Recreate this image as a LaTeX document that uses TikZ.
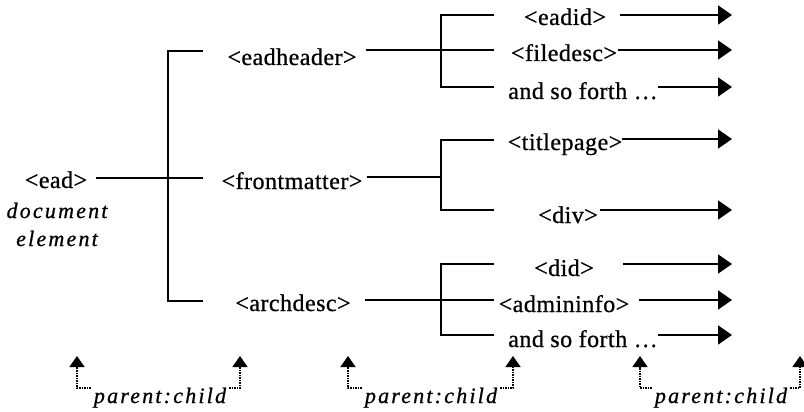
\documentclass[tikz,border=0pt]{standalone}
\usepackage{fontspec}
\setmainfont{Liberation Serif}[LetterSpace=2,FakeBold=0.8,ItalicFeatures={LetterSpace=10}]
\usetikzlibrary{arrows.meta}
\begin{document}
\begin{tikzpicture}[x=1pt,y=-1pt,
  txt/.style={anchor=base,inner sep=0pt,font=\fontsize{24}{28}\selectfont},
  itx/.style={anchor=base,inner sep=0pt,font=\fontsize{22}{26}\selectfont\itshape},
  ln/.style={line width=1.8pt},
  arr/.style={ln,-{Triangle[length=14pt,width=19pt]}},
  uparr/.style={line width=1.5pt,densely dotted,-{Triangle[length=11pt,width=15pt]}}]
\useasboundingbox (0,0) rectangle (804,412);

% root
\node[txt] (ead) at (56,188) {<ead>};
\node[itx] (doc) at (57,218) {document};
\node[itx] (elem) at (57,246) {element};

% level 1
\node[txt] (eadheader) at (292,65) {<eadheader>};
\node[txt] (frontmatter) at (292,189) {<frontmatter>};
\node[txt] (archdesc) at (293,311) {<archdesc>};

\coordinate (b1t) at (168,51);
\coordinate (b1b) at (168,301);
\coordinate (s1t) at (203,51);
\coordinate (s1m) at (203,178);
\coordinate (s1b) at (203,301);
\draw[ln] (s1t) -- (b1t) -- (b1b) -- (s1b);
\draw[ln,shorten <=9pt] (ead.east |- s1m) -- (s1m);

% level 2 brackets
\coordinate (b2at) at (441,15);  \coordinate (s2at) at (494,15);
\coordinate (b2ab) at (441,87);  \coordinate (s2ab) at (494,87);
\coordinate (s2am) at (494,50);
\draw[ln] (s2at) -- (b2at) -- (b2ab) -- (s2ab);
\draw[ln,shorten <=9pt] (eadheader.east |- s2am) -- (s2am);

\coordinate (b2bt) at (441,140); \coordinate (s2bt) at (494,140);
\coordinate (b2bb) at (441,210); \coordinate (s2bb) at (494,210);
\coordinate (b2bm) at (441,177);
\draw[ln] (s2bt) -- (b2bt) -- (b2bb) -- (s2bb);
\draw[ln,shorten <=4pt] (frontmatter.east |- b2bm) -- (b2bm);

\coordinate (b2ct) at (441,264); \coordinate (s2ct) at (494,264);
\coordinate (b2cb) at (441,335); \coordinate (s2cb) at (494,335);
\coordinate (s2cm) at (494,300);
\draw[ln] (s2ct) -- (b2ct) -- (b2cb) -- (s2cb);
\draw[ln,shorten <=14pt] (archdesc.east |- s2cm) -- (s2cm);

% leaves
\node[txt] (eadid) at (565,25) {<eadid>};
\node[txt] (filedesc) at (564,61) {<filedesc>};
\node[txt] (etca) at (583,99) {and so forth …};
\node[txt] (titlepage) at (565,150) {<titlepage>};
\node[txt] (div) at (568,223) {<div>};
\node[txt] (did) at (564,276) {<did>};
\node[txt] (admininfo) at (564,312) {<admininfo>};
\node[txt] (etcb) at (583,347) {and so forth …};

\coordinate (e1) at (732,15);
\coordinate (e2) at (732,50);
\coordinate (e3) at (732,87);
\coordinate (e4) at (732,139);
\coordinate (e5) at (732,210);
\coordinate (e6) at (732,264);
\coordinate (e7) at (732,300);
\coordinate (e8) at (732,335);
\draw[arr,shorten <=14pt] (eadid.east |- e1) -- (e1);
\draw[arr,shorten <=1pt] (filedesc.east |- e2) -- (e2);
\draw[arr] (etca.east |- e3) -- (e3);
\draw[arr] (titlepage.east |- e4) -- (e4);
\draw[arr,shorten <=2pt] (div.east |- e5) -- (e5);
\draw[arr,shorten <=29pt] (did.east |- e6) -- (e6);
\draw[arr,shorten <=10pt] (admininfo.east |- e7) -- (e7);
\draw[arr] (etcb.east |- e8) -- (e8);

% parent:child annotations
\node[itx] (pc1) at (160,403) {parent:child};
\node[itx] (pc2) at (431,403) {parent:child};
\node[itx] (pc3) at (721,403) {parent:child};

\coordinate (t1l) at (77,356);  \coordinate (c1l) at (77,388);
\coordinate (t1r) at (240,356); \coordinate (c1r) at (240,388);
\coordinate (t2l) at (348,356); \coordinate (c2l) at (348,388);
\coordinate (t2r) at (513,356); \coordinate (c2r) at (513,388);
\coordinate (t3l) at (640,356); \coordinate (c3l) at (640,388);
\coordinate (t3r) at (800,356); \coordinate (c3r) at (800,388);

\draw[uparr,shorten <=3pt] (pc1.west |- c1l) -- (c1l) -- (t1l);
\draw[uparr,shorten <=3pt] (pc1.east |- c1r) -- (c1r) -- (t1r);
\draw[uparr,shorten <=3pt] (pc2.west |- c2l) -- (c2l) -- (t2l);
\draw[uparr,shorten <=3pt] (pc2.east |- c2r) -- (c2r) -- (t2r);
\draw[uparr,shorten <=3pt] (pc3.west |- c3l) -- (c3l) -- (t3l);
\draw[uparr,shorten <=3pt] (pc3.east |- c3r) -- (c3r) -- (t3r);
\end{tikzpicture}
\end{document}
